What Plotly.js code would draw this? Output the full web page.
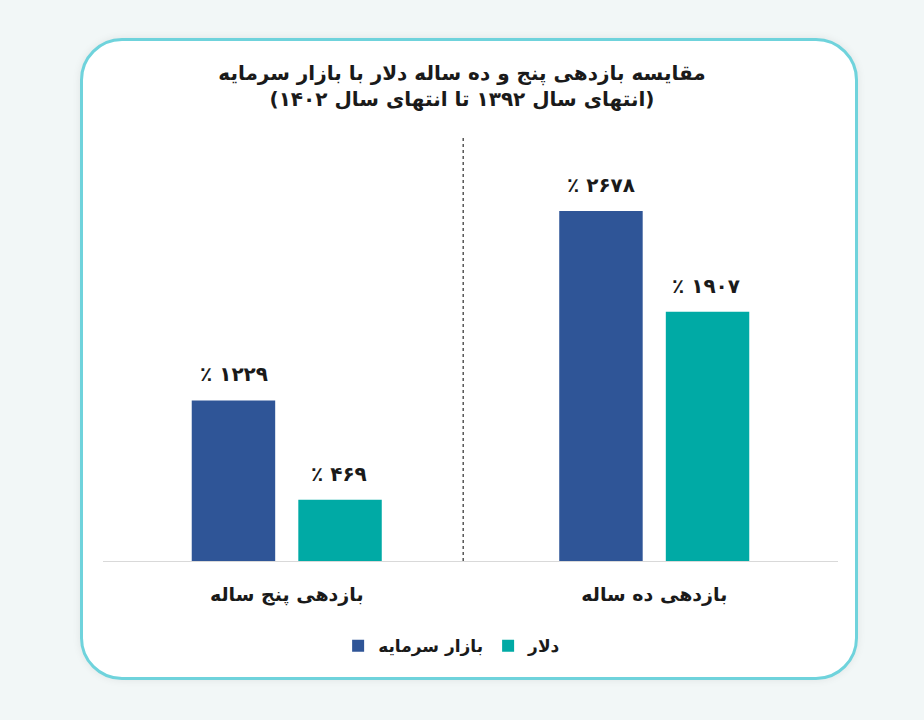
<!DOCTYPE html>
<html>
<head>
<meta charset="utf-8">
<script src="https://cdn.plot.ly/plotly-3.0.1.min.js"></script>
<style>
  html, body { margin: 0; padding: 0; background: #f2f7f7; width: 924px; height: 720px; overflow: hidden; }
  #card { position: absolute; left: 80px; top: 38px; width: 772px; height: 636px; background: #ffffff;
          border: 3px solid #6fd3dc; border-radius: 42px; box-shadow: 0 0 8px rgba(0,0,0,0.08); }
  #chart { position: absolute; left: 0; top: 0; width: 924px; height: 720px; }
</style>
</head>
<body>
<div id="card"></div>
<div id="chart"></div>
<script>
// Data
const categories = ["بازدهی پنج ساله", "بازدهی ده ساله"];
const seriesNames = ["بازار سرمایه", "دلار"];
const capitalMarket = [1229, 2678];
const dollar = [469, 1907];
const capitalLabels = ["٪ ۱۲۲۹", "٪ ۲۶۷۸"];
const dollarLabels = ["٪ ۴۶۹", "٪ ۱۹۰۷"];
const titleLine1 = "مقایسه بازدهی پنج و ده ساله دلار با بازار سرمایه";
const titleLine2 = "(انتهای سال ۱۳۹۲ تا انتهای سال ۱۴۰۲)";

const FONT = "DejaVu Sans, sans-serif";
const TXT = "#1a1a1a";
const BLUE = "#2f5597";
const TEAL = "#00aaa5";

const traces = [
  { type: "bar", name: "<b>" + seriesNames[0] + "</b>", x: categories, y: capitalMarket, marker: { color: BLUE }, hoverinfo: "skip" },
  { type: "bar", name: "<b>" + seriesNames[1] + "</b>", x: categories, y: dollar, marker: { color: TEAL }, hoverinfo: "skip" }
];

const annotations = [];
categories.forEach((c, i) => {
  annotations.push({ x: c, y: capitalMarket[i], xref: "x", yref: "y", text: "<b>" + capitalLabels[i] + "</b>",
    showarrow: false, xshift: -53, yshift: 26, yanchor: "middle", font: { family: FONT, size: 20, color: TXT } });
  annotations.push({ x: c, y: dollar[i], xref: "x", yref: "y", text: "<b>" + dollarLabels[i] + "</b>",
    showarrow: false, xshift: 52, yshift: 26, yanchor: "middle", font: { family: FONT, size: 20, color: TXT } });
});

const layout = {
  width: 924, height: 720,
  paper_bgcolor: "rgba(0,0,0,0)", plot_bgcolor: "rgba(0,0,0,0)",
  margin: { l: 103, r: 86, t: 135, b: 159 },
  title: {
    text: "<b>\u202B" + titleLine1 + "\u202C<br>\u202B" + titleLine2 + "\u202C</b>",
    x: 0.5, xanchor: "center", xref: "container", y: 1 - 80 / 720, yref: "container", yanchor: "top",
    font: { family: FONT, size: 20, color: TXT }
  },
  barmode: "group", bargap: 0.42, bargroupgap: 0.217,
  xaxis: {
    showline: true, linecolor: "#d9d9d9", linewidth: 1, ticks: "", showgrid: false, zeroline: false,
    tickfont: { family: FONT, size: 19, color: TXT }, ticklabelstandoff: 16, fixedrange: true,
    tickvals: categories, ticktext: categories.map(c => "<b>" + c + "</b>")
  },
  yaxis: { range: [0, 3260], visible: false, showgrid: false, zeroline: false, fixedrange: true },
  showlegend: true,
  legend: {
    orientation: "h", x: 0.475, xanchor: "center", y: -0.2, yanchor: "middle",
    font: { family: FONT, size: 17, color: TXT }, itemclick: false, itemdoubleclick: false,
    traceorder: "normal", itemwidth: 30
  },
  annotations: annotations,
  shapes: [{
    type: "line", xref: "x", yref: "paper", x0: 0.48, x1: 0.48, y0: 0, y1: 1,
    line: { color: "#000000", width: 1, dash: "3px,3px" }
  }]
};

Plotly.newPlot("chart", traces, layout, { displayModeBar: false, staticPlot: true });
</script>
</body>
</html>
